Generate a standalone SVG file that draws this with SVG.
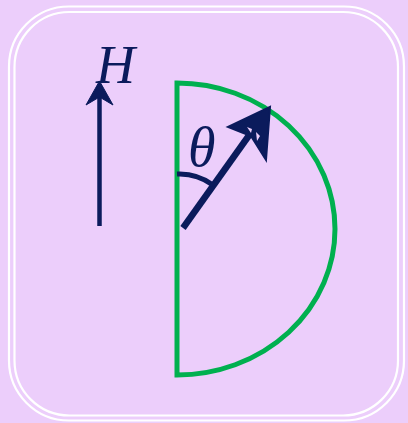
<svg xmlns="http://www.w3.org/2000/svg" width="408" height="423" viewBox="0 0 408 423">
<style>
.frame{fill:none;stroke:#ffffff;stroke-width:2.2}
.navy{stroke:#0b1b5c;fill:none}
.head{fill:#0b1b5c;stroke:#0b1b5c;stroke-linejoin:miter}
.lbl{font-family:"Liberation Serif",serif;font-style:italic;fill:#0b1b5c}
</style>
<rect x="0" y="0" width="408" height="423" fill="#eccefb"/>
<g id="frame">
<rect class="frame" x="9" y="6.5" width="395" height="414" rx="60"/>
<rect class="frame" x="14.5" y="12" width="383.5" height="403.5" rx="55"/>
</g>
<g id="semicircle">
<path d="M177,83 A158,146 0 0 1 177,375 Z" fill="none" stroke="#00b04f" stroke-width="5" stroke-linejoin="miter"/>
</g>
<g id="connectors">
<g id="h-arrow">
<line class="navy" x1="99.5" y1="226" x2="99.5" y2="95" stroke-width="4.5"/>
<path class="head" d="M99.5,81 L113,105 L99.5,97 L86,105 Z" stroke-width="1"/>
</g>
<g id="vector">
<line class="navy" x1="183" y1="228" x2="250" y2="134" stroke-width="6.5"/>
<path class="head" d="M270,107 L266,160 L251,136 L228,127 Z" stroke-width="2"/>
<path d="M247,127 L252,129 L251,133 Z M256,132 L260,136 L257,141 Z" fill="#eccefb"/>
</g>
<g id="angle-arc">
<path class="navy" d="M177,174 A56,56 0 0 1 213,185" stroke-width="5"/>
</g>
</g>
<g id="labels">
<text class="lbl" x="96" y="83" font-size="54">H</text>
<text class="lbl" x="188" y="166" font-size="56">θ</text>
</g>
</svg>
